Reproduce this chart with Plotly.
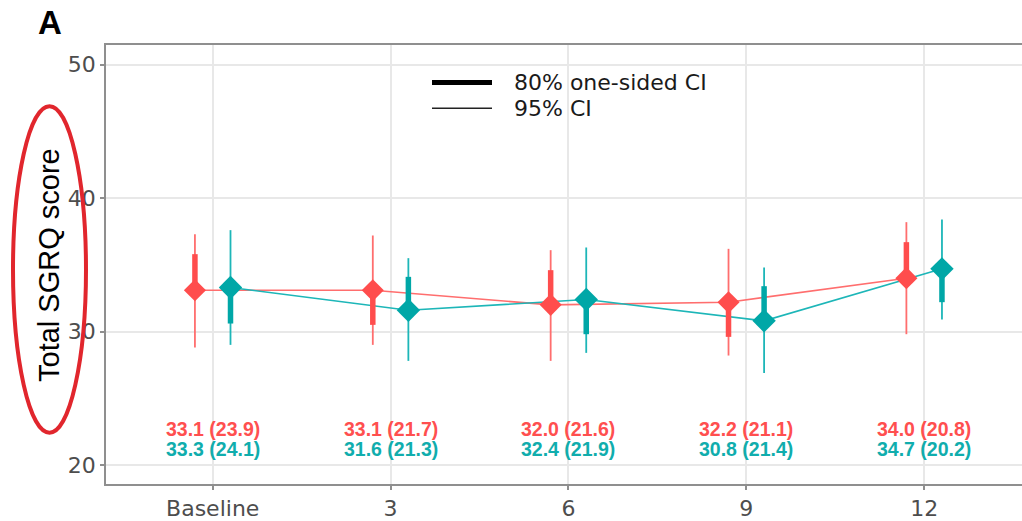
import plotly.graph_objects as go

# ---------------- data ----------------
timepoints = ["Baseline", "3", "6", "9", "12"]
red_mean = [33.1, 33.1, 32.0, 32.2, 34.0]
red_sd = [23.9, 21.7, 21.6, 21.1, 20.8]
teal_mean = [33.3, 31.6, 32.4, 30.8, 34.7]
teal_sd = [24.1, 21.3, 21.9, 21.4, 20.2]
red_lo95 = [28.8, 29.0, 27.8, 28.2, 29.8]
red_hi95 = [37.3, 37.2, 36.1, 36.2, 38.2]
teal_lo95 = [29.0, 27.8, 28.4, 26.9, 30.9]
teal_hi95 = [37.6, 35.5, 36.3, 34.8, 38.4]
red_80 = [35.8, 30.5, 34.6, 29.6, 36.7]
teal_80 = [30.6, 34.1, 29.8, 33.4, 32.2]

# ---------------- style ----------------
W, H = 1022, 521
ML, MR, MT, MB = 106, 0, 45, 31
RED = "#FF4D4D"
RED_THIN = "#FF6E6E"
TEAL = "#00A7A7"
TEAL_THIN = "#1DB6B8"
RED_TXT = "#FF4F4F"
TEAL_TXT = "#10ADAD"
DODGE = 0.1
FONT = "Liberation Sans, Arial, Helvetica, sans-serif"
TICKFONT = "DejaVu Sans, Liberation Sans, sans-serif"

idx = list(range(len(timepoints)))
xr = [i - DODGE for i in idx]
xt = [i + DODGE for i in idx]


def segs(xs, a, b):
    X, Y = [], []
    for x, y0, y1 in zip(xs, a, b):
        X += [x, x, None]
        Y += [y0, y1, None]
    return X, Y


def px(xp):
    return (xp - ML) / (W - ML - MR)


def py(yp):
    return (H - MB - yp) / (H - MT - MB)


fig = go.Figure()

# connecting lines
fig.add_trace(go.Scatter(x=xr, y=red_mean, mode="lines",
                         line=dict(color=RED_THIN, width=1.6), showlegend=False, hoverinfo="skip"))
fig.add_trace(go.Scatter(x=xt, y=teal_mean, mode="lines",
                         line=dict(color=TEAL_THIN, width=1.6), showlegend=False, hoverinfo="skip"))

# 95% CI thin
X, Y = segs(xr, red_lo95, red_hi95)
fig.add_trace(go.Scatter(x=X, y=Y, mode="lines", line=dict(color=RED_THIN, width=1.8),
                         showlegend=False, hoverinfo="skip"))
X, Y = segs(xt, teal_lo95, teal_hi95)
fig.add_trace(go.Scatter(x=X, y=Y, mode="lines", line=dict(color=TEAL_THIN, width=1.8),
                         showlegend=False, hoverinfo="skip"))

# 80% one-sided CI thick
X, Y = segs(xr, red_mean, red_80)
fig.add_trace(go.Scatter(x=X, y=Y, mode="lines", line=dict(color=RED, width=5.5),
                         showlegend=False, hoverinfo="skip"))
X, Y = segs(xt, teal_mean, teal_80)
fig.add_trace(go.Scatter(x=X, y=Y, mode="lines", line=dict(color=TEAL, width=5.5),
                         showlegend=False, hoverinfo="skip"))

# mean markers
fig.add_trace(go.Scatter(x=xr, y=red_mean, mode="markers",
                         marker=dict(symbol="diamond", size=17, color=RED, line=dict(width=0)),
                         showlegend=False))
fig.add_trace(go.Scatter(x=xt, y=teal_mean, mode="markers",
                         marker=dict(symbol="diamond", size=18, color=TEAL, line=dict(width=0)),
                         showlegend=False))

annotations = []
for i in idx:
    annotations.append(dict(x=i, y=22.7, xref="x", yref="y", showarrow=False,
                            text=f"<b>{red_mean[i]:.1f} ({red_sd[i]:.1f})</b>",
                            font=dict(family=FONT, size=19.5, color=RED_TXT)))
    annotations.append(dict(x=i, y=21.22, xref="x", yref="y", showarrow=False,
                            text=f"<b>{teal_mean[i]:.1f} ({teal_sd[i]:.1f})</b>",
                            font=dict(family=FONT, size=19.5, color=TEAL_TXT)))

# legend (manual)
shapes = [
    dict(type="line", xref="paper", yref="paper", x0=px(432), x1=px(492), y0=py(83), y1=py(83),
         line=dict(color="black", width=5)),
    dict(type="line", xref="paper", yref="paper", x0=px(432), x1=px(492), y0=py(109), y1=py(109),
         line=dict(color="#222222", width=1.5)),
    dict(type="circle", xref="paper", yref="paper", x0=px(13), x1=px(86), y0=py(438), y1=py(107),
         line=dict(color="#E1262D", width=4)),
]
annotations += [
    dict(x=px(512), y=py(83), xref="paper", yref="paper", showarrow=False, xanchor="left",
         yanchor="middle", text="80% one-sided CI", font=dict(family=TICKFONT, size=22, color="#1A1A1A")),
    dict(x=px(512), y=py(109), xref="paper", yref="paper", showarrow=False, xanchor="left",
         yanchor="middle", text="95% CI", font=dict(family=TICKFONT, size=22, color="#1A1A1A")),
    dict(x=px(50), y=py(22), xref="paper", yref="paper", showarrow=False, xanchor="center",
         yanchor="middle", text="<b>A</b>", font=dict(family=FONT, size=33, color="black")),
    dict(x=px(49), y=py(268), xref="paper", yref="paper", showarrow=False, textangle=-90,
         xanchor="center", yanchor="middle",
         text="Total SGRQ score", font=dict(family=FONT, size=29, color="black")),
]

fig.update_layout(
    width=W, height=H,
    margin=dict(l=ML, r=MR, t=MT, b=MB, pad=0),
    paper_bgcolor="white", plot_bgcolor="white",
    showlegend=False,
    shapes=shapes, annotations=annotations,
    xaxis=dict(range=[-0.6, 4.55], tickmode="array", tickvals=idx, ticktext=timepoints,
               showgrid=True, gridcolor="#E8E8E8", gridwidth=1.5, zeroline=False,
               showline=True, linecolor="#8F8F8F", linewidth=1.5, mirror=True,
               ticks="outside", ticklen=4, tickcolor="#8F8F8F", tickwidth=1.5,
               tickfont=dict(family=TICKFONT, size=22, color="#4D4D4D")),
    yaxis=dict(range=[18.57, 51.48], tickmode="array", tickvals=[20, 30, 40, 50],
               showgrid=True, gridcolor="#E8E8E8", gridwidth=1.5, zeroline=False,
               showline=True, linecolor="#8F8F8F", linewidth=1.5,
               ticks="outside", ticklen=4, tickcolor="#8F8F8F", tickwidth=1.5,
               tickfont=dict(family=TICKFONT, size=22, color="#4D4D4D")),
)

fig.write_html("out.html")
